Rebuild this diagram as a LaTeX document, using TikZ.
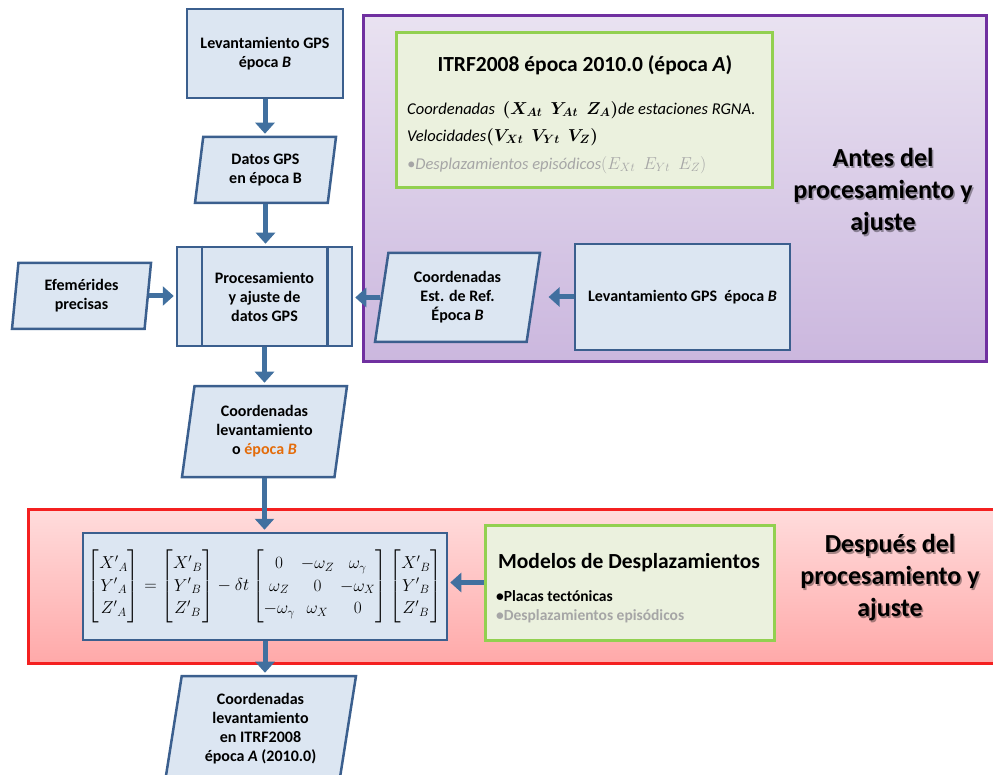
\documentclass[tikz,border=0pt]{standalone}
\usepackage{amsmath}
\usepackage{fontspec}
\setmainfont{Carlito}
\usetikzlibrary{arrows.meta,shapes.geometric}
\definecolor{boxfill}{HTML}{DCE6F2}
\definecolor{boxline}{HTML}{3B5F8E}
\definecolor{arrowc}{HTML}{41709F}
\definecolor{purpline}{HTML}{7030A0}
\definecolor{purptop}{HTML}{E9E2F1}
\definecolor{purpbot}{HTML}{CBB7DE}
\definecolor{redline}{HTML}{F42020}
\definecolor{redtop}{HTML}{FFDCDC}
\definecolor{redbot}{HTML}{FFA9A9}
\definecolor{greenline}{HTML}{92D050}
\definecolor{greenfill}{HTML}{EBF1DE}
\definecolor{greytext}{HTML}{A6A6A6}
\definecolor{orangetext}{HTML}{E46C0A}
\tikzset{
  box/.style={draw=boxline, fill=boxfill, line width=2.5pt, align=center, inner sep=0pt},
  para/.style={box, trapezium, trapezium stretches body},
  greenbox/.style={draw=greenline, fill=greenfill, line width=3pt, inner sep=0pt},
  arr/.style={draw=arrowc, line width=5pt, -{Triangle[length=11pt,width=19pt]}, shorten >=2pt},
  headline/.style={align=center, font=\fontsize{26}{32}\selectfont\bfseries},
  hshadow/.style={headline, text=black, opacity=0.35},
  itline/.style={anchor=west, inner sep=0pt, font=\fontsize{16.5}{18}\selectfont\mdseries}
}
\begin{document}
\begin{tikzpicture}[x=1pt, y=-1pt, font=\fontsize{16}{19}\selectfont\bfseries]
\clip (0,0) rectangle (993,775);
% regions
\path[draw=purpline, line width=3pt, top color=purptop, bottom color=purpbot] (363,16) rectangle (986,362);
\path[draw=redline, line width=3pt, top color=redtop, bottom color=redbot] (28,509) rectangle (1005,663);

% left column
\node[box, minimum width=156pt, minimum height=89pt] (lev1) at (265,53.5) {Levantamiento GPS\\época \textit{B}};
\node[para, trapezium left angle=75.6, trapezium right angle=104.4, minimum width=141pt, minimum height=66pt] (datos) at (265.5,170) {Datos GPS\\en época B};
\node[box, minimum width=175pt, minimum height=99pt] (proc) at (264.5,296.5) {Procesamiento\\y ajuste de\\datos GPS};
\draw[boxline, line width=2.5pt] ([xshift=26pt]proc.north west) -- ([xshift=26pt]proc.south west);
\draw[boxline, line width=2.5pt] ([xshift=-26pt]proc.north east) -- ([xshift=-26pt]proc.south east);
\node[para, trapezium left angle=78.9, trapezium right angle=101.1, minimum width=139pt, minimum height=66pt] (efem) at (81.5,296) {Efemérides\\precisas};
\node[para, trapezium left angle=75.5, trapezium right angle=104.5, minimum width=165pt, minimum height=89pt] (estref) at (457.5,297.5) {Coordenadas\\Est. de Ref.\\Época \textit{B}};
\node[box, minimum width=215pt, minimum height=106pt] (lev2) at (682.5,297) {Levantamiento GPS\ \ época \textit{B}};
\node[para, trapezium left angle=76.4, trapezium right angle=103.6, minimum width=165pt, minimum height=91pt] (coordlev) at (264.5,431.5) {Coordenadas\\levantamiento\\o \textcolor{orangetext}{época \textit{B}}};
\node[box, minimum width=364pt, minimum height=107pt] (eq) at (265,586.5) {\fontsize{17}{22.5}\selectfont\setlength{\arraycolsep}{3pt}%
$\begin{bmatrix}{X'}_A\\{Y'}_A\\{Z'}_A\end{bmatrix}=\begin{bmatrix}{X'}_B\\{Y'}_B\\{Z'}_B\end{bmatrix}-\delta t\begin{bmatrix}0&-\omega_Z&\omega_\gamma\\\omega_Z&0&-\omega_X\\-\omega_\gamma&\omega_X&0\end{bmatrix}\begin{bmatrix}{X'}_B\\{Y'}_B\\{Z'}_B\end{bmatrix}$};
\node[para, trapezium left angle=76.7, trapezium right angle=103.3, minimum width=191pt, minimum height=106pt] (final) at (260.5,729) {Coordenadas\\levantamiento\\en ITRF2008\\época \textit{A} (2010.0)};

% ITRF box
\node[greenbox, minimum width=376pt, minimum height=155pt] (itrf) at (584,110.5) {};
\node[font=\fontsize{21.5}{25}\selectfont\bfseries] (itrfT) at (585,65) {ITRF2008 época 2010.0 (época \textit{A})};
\node[itline] (coordL) at (407,110) {\textit{Coordenadas}\ \ {\fontsize{18}{20}\selectfont$\boldsymbol{(X_{At}\ \ Y_{At}\ \ Z_A)}$}\textit{de estaciones RGNA.}};
\node[itline] (velL) at (407,137) {\textit{Velocidades}{\fontsize{18}{20}\selectfont$\boldsymbol{(V_{Xt}\ \ V_{Yt}\ \ V_Z)}$}};
\node[itline, text=greytext] (despL) at (407,165) {\textit{•Desplazamientos episódicos}{\fontsize{18}{20}\selectfont$(E_{Xt}\ \ E_{Yt}\ \ E_Z)$}};

% Modelos box
\node[greenbox, minimum width=289pt, minimum height=115pt] (modelos) at (629.5,582.5) {};
\node[font=\fontsize{21.5}{25}\selectfont\bfseries] (modT) at (629,563) {Modelos de Desplazamientos};
\node[anchor=west, inner sep=0pt, font=\fontsize{15.5}{18}\selectfont\bfseries] (placas) at (496,596) {•Placas tectónicas};
\node[anchor=west, inner sep=0pt, font=\fontsize{15.5}{18}\selectfont\bfseries, text=greytext] (despM) at (496,616) {•Desplazamientos episódicos};

% headlines with soft shadow
\node[hshadow] (antesS) at (884.5,193.5) {Antes del\\procesamiento y\\ajuste};
\node[headline] (antes) at (883,192) {Antes del\\procesamiento y\\ajuste};
\node[hshadow] (despuesS) at (891.5,579.5) {Después del\\procesamiento y\\ajuste};
\node[headline] (despues) at (890,578) {Después del\\procesamiento y\\ajuste};

% connectors
\draw[arr] (lev1.south) -- (lev1.south |- datos.north);
\draw[arr] (datos.south) -- (datos.south |- proc.north);
\draw[arr] (efem.right side) -- (efem.right side -| proc.west);
\draw[arr] (estref.left side) -- (estref.left side -| proc.east);
\draw[arr, shorten >=14pt] (lev2.west) -- (lev2.west -| estref.right side);
\draw[arr] (proc.south) -- (proc.south |- coordlev.north);
\draw[arr] (coordlev.south) -- (coordlev.south |- eq.north);
\draw[arr] (modelos.west) -- (modelos.west -| eq.east);
\draw[arr] (eq.south) -- (eq.south |- final.north);
\end{tikzpicture}
\end{document}
